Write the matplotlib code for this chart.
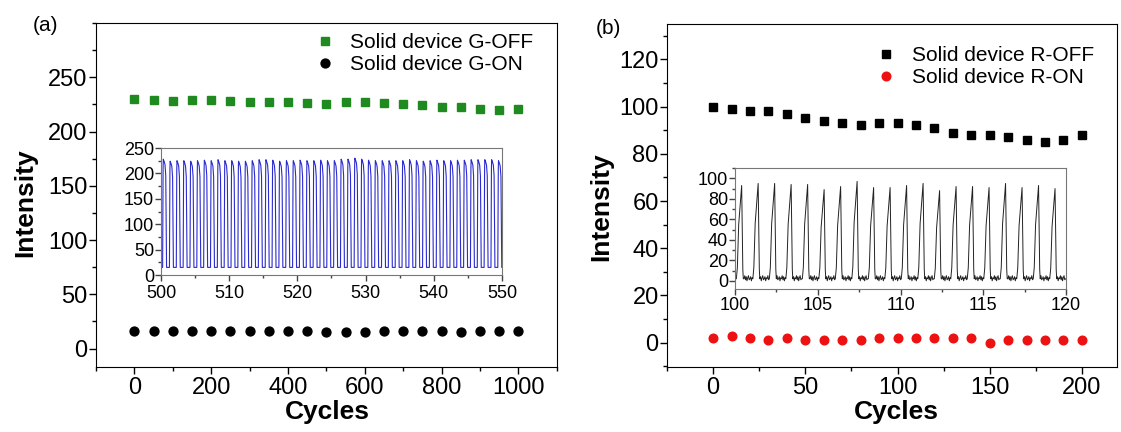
import numpy as np
import matplotlib
matplotlib.use("Agg")
import matplotlib.pyplot as plt
from matplotlib.ticker import MultipleLocator

plt.rcParams['font.family'] = ['Liberation Sans', 'DejaVu Sans']
TICKFONT = ['Liberation Sans Narrow', 'Liberation Sans', 'DejaVu Sans']

# ---- panel (a) data ----
cycles_a = np.arange(0, 1001, 50)
g_off = [230, 229, 228, 229, 229, 228, 227, 227, 227, 226, 225,
         227, 227, 226, 225, 224, 223, 223, 221, 220, 221]
g_on = [16, 16, 16, 16, 16, 16, 16, 16, 16, 16, 15,
        15, 15, 16, 16, 16, 16, 15, 16, 16, 16]

# inset (a): peak heights of each switching cycle between 500 and 550
a_peaks = [228, 224, 225, 225, 224, 225, 226, 225, 227, 225,
           225, 224, 224, 225, 227, 227, 226, 224, 225, 225,
           226, 225, 225, 226, 225, 225, 228, 228, 230, 228,
           226, 225, 225, 225, 225, 225, 227, 225, 224, 225,
           226, 225, 225, 226, 226, 227, 227, 227, 227, 225]
a_base = 15
a_first, a_period = 500.34, 1.003
# pulse shape (offset from peak, fraction of height)
a_dx = [-0.10, -0.07, -0.03, 0.0, 0.12, 0.25, 0.36, 0.43, 0.48]
a_fr = [0.0, 0.5, 0.92, 1.0, 0.98, 0.95, 0.85, 0.3, 0.0]

# ---- panel (b) data ----
cycles_b = np.arange(0, 201, 10)
r_off = [100, 99, 98, 98, 97, 95, 94, 93, 92, 93, 93,
         92, 91, 89, 88, 88, 87, 86, 85, 86, 88]
r_on = [2, 3, 2, 1, 2, 1, 1, 1, 1, 2, 2,
        2, 2, 2, 2, 0, 1, 1, 1, 1, 1]

# inset (b): peak heights of each cycle between 100 and 120
b_peaks = [93, 95, 95, 94, 94, 89, 92, 97, 91, 91,
           93, 95, 88, 92, 92, 91, 95, 91, 93, 90]
b_first, b_period = 100.4, 0.9965
b_dx = [-0.32, -0.26, -0.18, -0.12, -0.06, 0.0, 0.03, 0.07, 0.10]
b_fr = [0.0, 0.12, 0.58, 0.72, 0.85, 1.0, 0.6, 0.1, 0.0]
b_noise = [2, 5, 1, 4, 0, 3, 5, 1, 2, 4, 0, 3]


def trace(first, period, peaks, base, dx, fr, noise=None, x0=None, x1=None):
    xs, ys = [], []
    if x0 is not None:
        xs.append(x0)
        ys.append(base)
    for k, p in enumerate(peaks):
        c = first + k * period
        for d, f in zip(dx, fr):
            xs.append(c + d)
            ys.append(base + f * (p - base))
        if noise is not None:
            gap_start = c + dx[-1]
            gap_end = c + period + dx[0]
            n = len(noise)
            ts = np.linspace(gap_start, gap_end, n + 2)[1:-1]
            for j, t in enumerate(ts):
                xs.append(t)
                ys.append(noise[(j + 3 * k) % n])
    if x1 is not None:
        xs.append(x1)
        ys.append(base)
    return xs, ys


def style_ticks(ax, size, length=5, mlength=3, color='black', xpad=1):
    ax.tick_params(which='both', direction='out', top=False, right=False,
                   color=color, width=1)
    ax.tick_params(which='major', length=length, pad=1, labelsize=size)
    ax.tick_params(axis='x', which='major', pad=xpad)
    ax.tick_params(which='minor', length=mlength)
    for lab in ax.get_xticklabels() + ax.get_yticklabels():
        lab.set_family(TICKFONT)


fig = plt.figure(figsize=(11.21, 4.32), dpi=100)

# ================= panel (a) =================
ax1 = fig.add_axes([0.0856, 0.1505, 0.4112, 0.7963])
ax1.plot(cycles_a, g_off, ls='none', marker='s', ms=5.8, color='#1f8a1f',
         mec='#1f8a1f', label='Solid device G-OFF')
ax1.plot(cycles_a, g_on, ls='none', marker='o', ms=6.4, color='black',
         label='Solid device G-ON')
ax1.set_xlim(-100, 1100)
ax1.set_ylim(-17, 300)
ax1.xaxis.set_major_locator(MultipleLocator(200))
ax1.xaxis.set_minor_locator(MultipleLocator(100))
ax1.set_yticks([0, 50, 100, 150, 200, 250])
ax1.yaxis.set_minor_locator(MultipleLocator(25))
style_ticks(ax1, 17, xpad=2)
ax1.set_xlabel('Cycles', fontsize=19, fontweight='bold')
ax1.set_ylabel('Intensity', fontsize=19, fontweight='bold')
ax1.xaxis.set_label_coords(0.501, -0.095)
ax1.yaxis.set_label_coords(-0.127, 0.477)
ax1.legend(loc='upper left', bbox_to_anchor=(0.474, 0.97), frameon=False,
           fontsize=15, handlelength=1.0, handletextpad=0.7, labelspacing=0.15,
           borderpad=0, borderaxespad=0, numpoints=1)
fig.text(0.0295, 0.942, '(a)', fontsize=15, va='center', ha='left')

ins1 = fig.add_axes([0.1436, 0.3634, 0.3042, 0.294])
xa, ya = trace(a_first, a_period, a_peaks, a_base, a_dx, a_fr, x0=500, x1=550)
ins1.plot(xa, ya, color='#2b2bd0', lw=0.8)
ins1.set_xlim(500, 550)
ins1.set_ylim(0, 250)
ins1.xaxis.set_major_locator(MultipleLocator(10))
ins1.xaxis.set_minor_locator(MultipleLocator(5))
ins1.yaxis.set_major_locator(MultipleLocator(50))
ins1.yaxis.set_minor_locator(MultipleLocator(25))
style_ticks(ins1, 13, length=4, mlength=2.5, color='#444444', xpad=3)
for s in ins1.spines.values():
    s.set_color('#777777')

# ================= panel (b) =================
ax2 = fig.add_axes([0.595, 0.1505, 0.4014, 0.794])
ax2.plot(cycles_b, r_off, ls='none', marker='s', ms=5.4, color='black',
         label='Solid device R-OFF')
ax2.plot(cycles_b, r_on, ls='none', marker='o', ms=6.2, color='#ee1111',
         mec='#ee1111', label='Solid device R-ON')
ax2.set_xlim(-25, 219)
ax2.set_ylim(-10.3, 135)
ax2.xaxis.set_major_locator(MultipleLocator(50))
ax2.xaxis.set_minor_locator(MultipleLocator(25))
ax2.set_yticks([0, 20, 40, 60, 80, 100, 120])
ax2.yaxis.set_minor_locator(MultipleLocator(10))
style_ticks(ax2, 17, xpad=2)
ax2.set_xlabel('Cycles', fontsize=19, fontweight='bold')
ax2.set_ylabel('Intensity', fontsize=19, fontweight='bold')
ax2.xaxis.set_label_coords(0.509, -0.095)
ax2.yaxis.set_label_coords(-0.12, 0.466)
ax2.legend(loc='upper left', bbox_to_anchor=(0.4636, 0.935), frameon=False,
           fontsize=15, handlelength=1.0, handletextpad=0.75, labelspacing=0.15,
           borderpad=0, borderaxespad=0, numpoints=1)
fig.text(0.531, 0.935, '(b)', fontsize=15, va='center', ha='left')

ins2 = fig.add_axes([0.6557, 0.331, 0.2953, 0.280])
xb, yb = trace(b_first, b_period, b_peaks, 2, b_dx, b_fr, noise=b_noise,
               x0=100, x1=120)
ins2.plot(xb, yb, color='#222222', lw=0.7)
ins2.set_xlim(100, 120)
ins2.set_ylim(-8, 110)
ins2.xaxis.set_major_locator(MultipleLocator(5))
ins2.xaxis.set_minor_locator(MultipleLocator(2.5))
ins2.yaxis.set_major_locator(MultipleLocator(20))
ins2.yaxis.set_minor_locator(MultipleLocator(10))
style_ticks(ins2, 13, length=4, mlength=2.5, color='#444444', xpad=2)
for s in ins2.spines.values():
    s.set_color('#777777')

fig.savefig('out.png', dpi=100)
